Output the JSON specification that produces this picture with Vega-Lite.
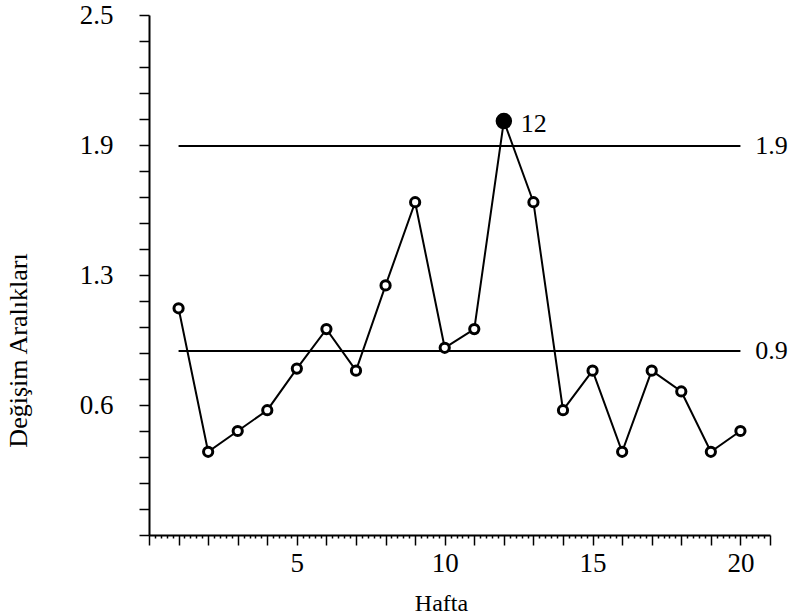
{
  "$schema": "https://vega.github.io/schema/vega-lite/v6.json",
  "width": 621,
  "height": 520,
  "autosize": {"type": "none"},
  "padding": {"left": 149, "top": 15, "right": 20, "bottom": 81},
  "background": "white",
  "config": {
    "view": {"stroke": null},
    "font": "Liberation Serif",
    "axis": {
      "labelFont": "Liberation Serif",
      "titleFont": "Liberation Serif",
      "labelColor": "black",
      "titleColor": "black",
      "tickColor": "black",
      "domainColor": "black",
      "grid": false,
      "titleFontWeight": "normal",
      "labelOverlap": false,
      "tickCount": 500
    }
  },
  "datasets": {
    "mr": [
      {"hafta": 1, "deger": 1.09},
      {"hafta": 2, "deger": 0.4},
      {"hafta": 3, "deger": 0.5},
      {"hafta": 4, "deger": 0.6},
      {"hafta": 5, "deger": 0.8},
      {"hafta": 6, "deger": 0.99},
      {"hafta": 7, "deger": 0.79},
      {"hafta": 8, "deger": 1.2},
      {"hafta": 9, "deger": 1.6},
      {"hafta": 10, "deger": 0.9},
      {"hafta": 11, "deger": 0.99},
      {"hafta": 12, "deger": 1.99},
      {"hafta": 13, "deger": 1.6},
      {"hafta": 14, "deger": 0.6},
      {"hafta": 15, "deger": 0.79},
      {"hafta": 16, "deger": 0.4},
      {"hafta": 17, "deger": 0.79},
      {"hafta": 18, "deger": 0.69},
      {"hafta": 19, "deger": 0.4},
      {"hafta": 20, "deger": 0.5}
    ],
    "limits": [
      {"sinir": 1.87, "etiket": "1.9"},
      {"sinir": 0.885, "etiket": "0.9"}
    ]
  },
  "layer": [
    {
      "data": {"name": "limits"},
      "mark": {"type": "rule", "color": "black", "strokeWidth": 2},
      "encoding": {
        "x": {"datum": 1, "type": "quantitative"},
        "x2": {"datum": 20},
        "y": {"field": "sinir", "type": "quantitative"}
      }
    },
    {
      "data": {"name": "limits"},
      "mark": {"type": "text", "align": "left", "baseline": "middle", "fontSize": 26, "font": "Liberation Serif", "color": "black"},
      "encoding": {
        "x": {"datum": 20.5, "type": "quantitative"},
        "y": {"field": "sinir", "type": "quantitative"},
        "text": {"field": "etiket"}
      }
    },
    {
      "data": {"name": "mr"},
      "mark": {"type": "line", "color": "black", "strokeWidth": 2},
      "encoding": {
        "x": {
          "field": "hafta",
          "type": "quantitative",
          "scale": {"domain": [0, 21], "nice": false, "zero": false},
          "axis": {
            "orient": "bottom",
            "title": "Hafta",
            "titleFontSize": 24,
            "titleX": 292,
            "titleY": 68,
            "titleAlign": "center",
            "titleBaseline": "middle",
            "tickCount": 500,
            "values": [0,0.2,0.4,0.6,0.8,1,1.2,1.4,1.6,1.8,2,2.2,2.4,2.6,2.8,3,3.2,3.4,3.6,3.8,4,4.2,4.4,4.6,4.8,5,5.2,5.4,5.6,5.8,6,6.2,6.4,6.6,6.8,7,7.2,7.4,7.6,7.8,8,8.2,8.4,8.6,8.8,9,9.2,9.4,9.6,9.8,10,10.2,10.4,10.6,10.8,11,11.2,11.4,11.6,11.8,12,12.2,12.4,12.6,12.8,13,13.2,13.4,13.6,13.8,14,14.2,14.4,14.6,14.8,15,15.2,15.4,15.6,15.8,16,16.2,16.4,16.6,16.8,17,17.2,17.4,17.6,17.8,18,18.2,18.4,18.6,18.8,19,19.2,19.4,19.6,19.8,20,20.2,20.4,20.6,20.8,21],
            "labelExpr": "(abs(datum.value - round(datum.value)) < 0.001 && round(datum.value) % 5 == 0 && datum.value > 0) ? format(round(datum.value), 'd') : ''",
            "labelFontSize": 27,
            "labelPadding": 5,
            "domainWidth": 2,
            "tickWidth": 1.5,
            "tickSize": {"condition": {"test": "abs(datum.value - round(datum.value)) < 0.001", "value": 10}, "value": 3}
          }
        },
        "y": {
          "field": "deger",
          "type": "quantitative",
          "scale": {"domain": [0, 2.5], "nice": false},
          "axis": {
            "title": "Değişim Aralıkları",
            "titleFontSize": 26,
            "titleAngle": -90,
            "titleX": -131,
            "titleY": 335,
            "titleAlign": "center",
            "titleBaseline": "middle",
            "tickCount": 500,
            "values": [0,0.125,0.25,0.375,0.5,0.625,0.75,0.875,1,1.125,1.25,1.375,1.5,1.625,1.75,1.875,2,2.125,2.25,2.375,2.5],
            "labelExpr": "datum.value == 2.5 ? '2.5' : datum.value == 1.875 ? '1.9' : datum.value == 1.25 ? '1.3' : datum.value == 0.625 ? '0.6' : ''",
            "labelFontSize": 27,
            "labelPadding": 26,
            "domainWidth": 2,
            "tickWidth": 1.5,
            "tickSize": 10
          }
        }
      }
    },
    {
      "data": {"name": "mr"},
      "mark": {"type": "circle", "fill": "white", "stroke": "black", "strokeWidth": 3, "size": 85, "opacity": 1},
      "encoding": {
        "x": {"field": "hafta", "type": "quantitative"},
        "y": {"field": "deger", "type": "quantitative"}
      }
    },
    {
      "data": {"name": "mr"},
      "transform": [{"filter": "datum.hafta == 12"}],
      "mark": {"type": "circle", "fill": "black", "stroke": "black", "size": 210, "opacity": 1},
      "encoding": {
        "x": {"field": "hafta", "type": "quantitative"},
        "y": {"field": "deger", "type": "quantitative"}
      }
    },
    {
      "data": {"name": "mr"},
      "transform": [{"filter": "datum.hafta == 12"}],
      "mark": {"type": "text", "align": "left", "baseline": "middle", "dx": 17, "dy": 3, "fontSize": 26, "font": "Liberation Serif", "color": "black"},
      "encoding": {
        "x": {"field": "hafta", "type": "quantitative"},
        "y": {"field": "deger", "type": "quantitative"},
        "text": {"field": "hafta", "type": "quantitative"}
      }
    }
  ]
}
